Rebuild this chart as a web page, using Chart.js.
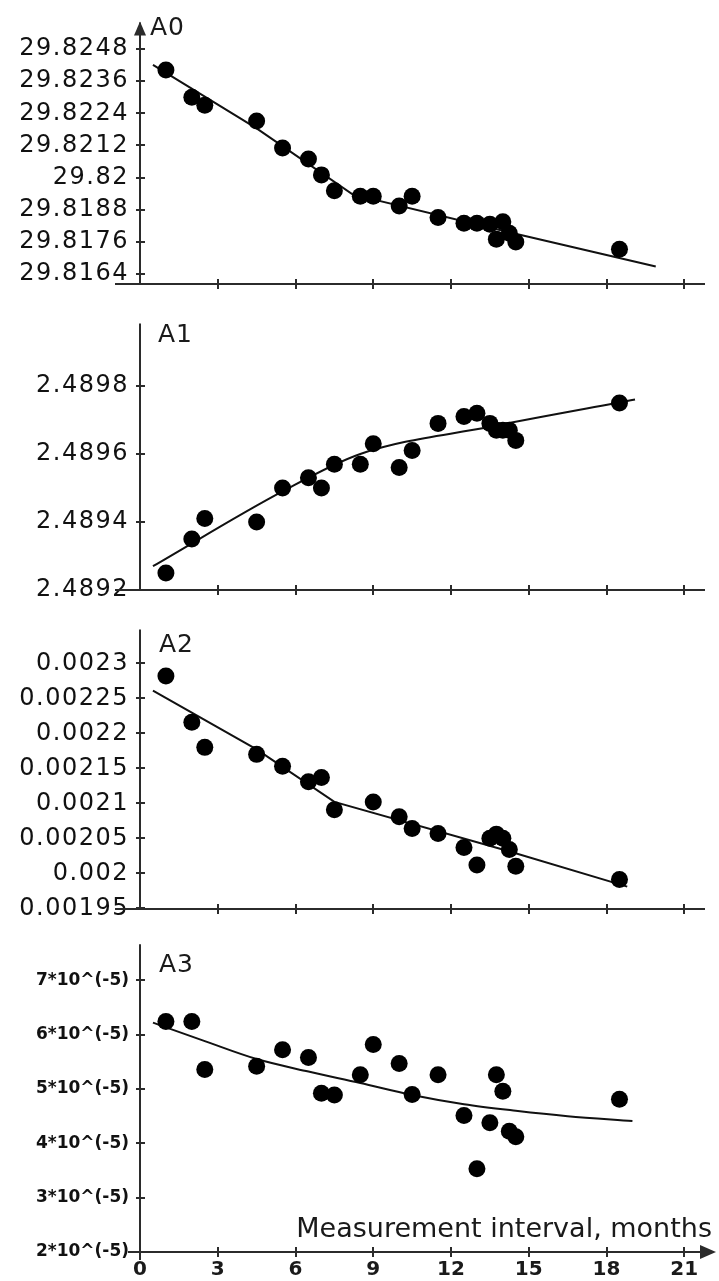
<!DOCTYPE html>
<html>
<head>
    <title>A0 - A3 vs measurement interval</title>
    <script src="https://cdn.jsdelivr.net/npm/chart.js"></script>
    <style>
        body {
            margin: 0;
            background: #fff;
        }
        #wrap {
            position: relative;
            width: 719px;
            height: 1281px;
            overflow: hidden;
            font-family: "DejaVu Sans", sans-serif;
            color: #1a1a1a;
        }
        canvas {
            position: absolute;
            left: 0;
        }
        .lbl {
            position: absolute;
            font-size: 25px;
            line-height: 25px;
            letter-spacing: 1px;
        }
        #xtitle {
            position: absolute;
            right: 7px;
            top: 1214px;
            font-size: 27px;
            line-height: 27px;
            white-space: nowrap;
        }
    </style>
</head>
<body>
<div id="wrap">
    <canvas id="c0"></canvas>
    <canvas id="c1"></canvas>
    <canvas id="c2"></canvas>
    <canvas id="c3"></canvas>
    <div class="lbl" style="left:150px; top:14px;">A0</div>
    <div class="lbl" style="left:158px; top:321px;">A1</div>
    <div class="lbl" style="left:159px; top:631px;">A2</div>
    <div class="lbl" style="left:159px; top:951px;">A3</div>
    <div id="xtitle">Measurement interval, months</div>
</div>

<script>
    // measurement intervals (months), same for all four coefficients
    const months = [1, 2, 2.5, 4.5, 5.5, 6.5, 7, 7.5, 8.5, 9, 10, 10.5, 11.5, 12.5, 13, 13.5, 13.75, 14, 14.25, 14.5, 18.5];

    const a0Values = [29.82402, 29.82300, 29.82270, 29.82211, 29.82110, 29.82069, 29.82010, 29.81951, 29.81930, 29.81930, 29.81894,
        29.81930, 29.81851, 29.81829, 29.81829, 29.81826, 29.81770, 29.81835, 29.81792, 29.81759, 29.81732];
    const a1Values = [2.48925, 2.48935, 2.48941, 2.48940, 2.48950, 2.48953, 2.48950, 2.48957, 2.48957, 2.48963, 2.48956,
        2.48961, 2.48969, 2.48971, 2.48972, 2.48969, 2.48967, 2.48967, 2.48967, 2.48964, 2.48975];
    const a2Values = [0.002282, 0.002216, 0.002180, 0.002170, 0.002153, 0.002131, 0.002137, 0.002091, null, 0.002102, 0.002081,
        0.002064, 0.002057, 0.002037, 0.002012, 0.002050, 0.002056, 0.002050, 0.002034, 0.002010, 0.001991];
    const a3Values = [6.24e-5, 6.24e-5, 5.36e-5, 5.42e-5, 5.72e-5, 5.58e-5, 4.92e-5, 4.89e-5, 5.26e-5, 5.82e-5, 5.47e-5,
        4.90e-5, 5.26e-5, 4.51e-5, 3.53e-5, 4.38e-5, 5.26e-5, 4.96e-5, 4.22e-5, 4.12e-5, 4.81e-5];

    // fitted curves
    const a0FitX = [0.5, 4.5, 8.2, 14.2, 19.9];
    const a0FitY = [29.82421, 29.82184, 29.81937, 29.81797, 29.81668];
    const a1FitX = [0.5, 5.5, 8.5, 13.5, 19.1];
    const a1FitY = [2.48927, 2.48949, 2.48960, 2.48968, 2.48976];
    const a2FitX = [0.5, 4.5, 7.5, 14.2, 18.8];
    const a2FitY = [0.002261, 0.002177, 0.002102, 0.002032, 0.001981];
    const a3FitX = [0.5, 2.5, 4.5, 6.5, 8.5, 10.5, 12.5, 14.5, 16.5, 19];
    const a3FitY = [6.22e-5, 5.88e-5, 5.55e-5, 5.32e-5, 5.11e-5, 4.89e-5, 4.72e-5, 4.60e-5, 4.50e-5, 4.41e-5];

    // tick labels
    const xTicks = [0, 3, 6, 9, 12, 15, 18, 21];
    const a0Ticks = [29.8164, 29.8176, 29.8188, 29.82, 29.8212, 29.8224, 29.8236, 29.8248];
    const a1Ticks = [2.4892, 2.4894, 2.4896, 2.4898];
    const a2Ticks = [0.00195, 0.002, 0.00205, 0.0021, 0.00215, 0.0022, 0.00225, 0.0023];
    const a3Ticks = [2e-5, 3e-5, 4e-5, 5e-5, 6e-5, 7e-5];
    const a3TickLabels = ['2*10^(-5)', '3*10^(-5)', '4*10^(-5)', '5*10^(-5)', '6*10^(-5)', '7*10^(-5)'];

    const xMax = 21.8;
    const axisColor = '#2b2b2b';

    // page positions of each panel's plot area
    const panels = [
        { id: 'c0', top: 12, bottom: 313, min: 29.816024, max: 29.825796, values: a0Values, fitX: a0FitX, fitY: a0FitY,
          ticks: a0Ticks, fmt: v => String(+v.toFixed(4)), arrowTop: true },
        { id: 'c1', top: 313, bottom: 619, min: 2.4892, max: 2.489984, values: a1Values, fitX: a1FitX, fitY: a1FitY,
          ticks: a1Ticks, fmt: v => String(+v.toFixed(4)), smooth: true },
        { id: 'c2', top: 619, bottom: 938, min: 0.001949, max: 0.0023486, values: a2Values, fitX: a2FitX, fitY: a2FitY,
          ticks: a2Ticks, fmt: v => String(+v.toFixed(5)) },
        { id: 'c3', top: 938, bottom: 1252, min: 2e-5, max: 7.664e-5, values: a3Values, fitX: a3FitX, fitY: a3FitY,
          ticks: a3Ticks, fmt: (v, i) => a3TickLabels[i], last: true, smooth: true }
    ];

    function makePanel(p) {
        const canvas = document.getElementById(p.id);
        const padTop = 15;
        canvas.width = 719;
        canvas.height = p.last ? 1281 - p.top + padTop : p.bottom - p.top + 2 * padTop;
        canvas.style.top = (p.top - padTop) + 'px';

        const points = [];
        months.forEach((m, i) => {
            if (p.values[i] !== null) points.push({ x: m, y: p.values[i] });
        });
        const fit = p.fitX.map((x, i) => ({ x: x, y: p.fitY[i] }));

        // axis lines, cross ticks and arrows
        const axes = {
            id: 'axes' + p.id,
            beforeDraw(chart) {
                if (!p.last) chart.ctx.letterSpacing = '1.5px';
            },
            afterDraw(chart) {
                const ctx = chart.ctx;
                const a = chart.chartArea;
                const xs = chart.scales.x, ys = chart.scales.y;
                ctx.save();
                ctx.letterSpacing = '0px';
                ctx.strokeStyle = axisColor;
                ctx.fillStyle = axisColor;
                ctx.lineWidth = 2;
                ctx.beginPath();
                ctx.moveTo(a.left, a.top);
                ctx.lineTo(a.left, a.bottom + (p.last ? 8 : 0));
                p.ticks.forEach(v => {
                    const py = Math.round(ys.getPixelForValue(v));
                    ctx.moveTo(a.left - 4, py);
                    ctx.lineTo(a.left + 5, py);
                });
                const yb = Math.round(a.bottom);
                ctx.moveTo(p.last ? 128 : 115, yb);
                ctx.lineTo(p.last ? 702 : 705, yb);
                xTicks.forEach(v => {
                    if (v === 0) return;
                    const px = Math.round(xs.getPixelForValue(v));
                    ctx.moveTo(px, yb - 5);
                    ctx.lineTo(px, yb + 5);
                });
                ctx.stroke();
                if (p.arrowTop) {
                    ctx.beginPath();
                    ctx.moveTo(a.left, a.top - 1);
                    ctx.lineTo(a.left - 6, a.top + 13);
                    ctx.lineTo(a.left + 6, a.top + 13);
                    ctx.closePath();
                    ctx.fill();
                }
                if (p.last) {
                    ctx.beginPath();
                    ctx.moveTo(716, yb);
                    ctx.lineTo(700, yb - 7);
                    ctx.lineTo(700, yb + 7);
                    ctx.closePath();
                    ctx.fill();
                }
                ctx.restore();
            }
        };

        return new Chart(canvas, {
            type: 'scatter',
            data: {
                datasets: [
                    {
                        data: points,
                        pointRadius: 8.5,
                        pointBackgroundColor: '#000',
                        pointBorderWidth: 0
                    },
                    {
                        data: fit,
                        showLine: true,
                        pointRadius: 0,
                        borderColor: '#111',
                        borderWidth: 2,
                        cubicInterpolationMode: p.smooth ? 'monotone' : 'default',
                        tension: 0
                    }
                ]
            },
            options: {
                responsive: false,
                animation: false,
                devicePixelRatio: 1,
                layout: { padding: { top: padTop, bottom: p.last ? 0 : padTop, left: 0, right: 14 } },
                plugins: {
                    legend: { display: false },
                    tooltip: { enabled: false }
                },
                scales: {
                    x: {
                        type: 'linear',
                        min: 0,
                        max: xMax,
                        display: !!p.last,
                        afterBuildTicks: s => { s.ticks = xTicks.map(v => ({ value: v })); },
                        afterFit: s => { s.height = 29; },
                        grid: { display: false, drawTicks: false },
                        border: { display: false },
                        ticks: {
                            autoSkip: false,
                            maxRotation: 0,
                            padding: 6,
                            color: '#1a1a1a',
                            font: { family: 'DejaVu Sans', size: 20, weight: 'bold' }
                        }
                    },
                    y: {
                        type: 'linear',
                        min: p.min,
                        max: p.max,
                        afterBuildTicks: s => { s.ticks = p.ticks.map(v => ({ value: v })); },
                        afterFit: s => { s.width = 140; },
                        grid: { display: false, drawTicks: false },
                        border: { display: false },
                        ticks: {
                            autoSkip: false,
                            padding: 11,
                            color: '#111',
                            callback: (v, i) => p.fmt(v, i),
                            font: p.last
                                ? { family: 'DejaVu Sans', size: 17, weight: 'bold' }
                                : { family: 'DejaVu Sans', size: 24 }
                        }
                    }
                }
            },
            plugins: [axes]
        });
    }

    panels.forEach(makePanel);
</script>
</body>
</html>
